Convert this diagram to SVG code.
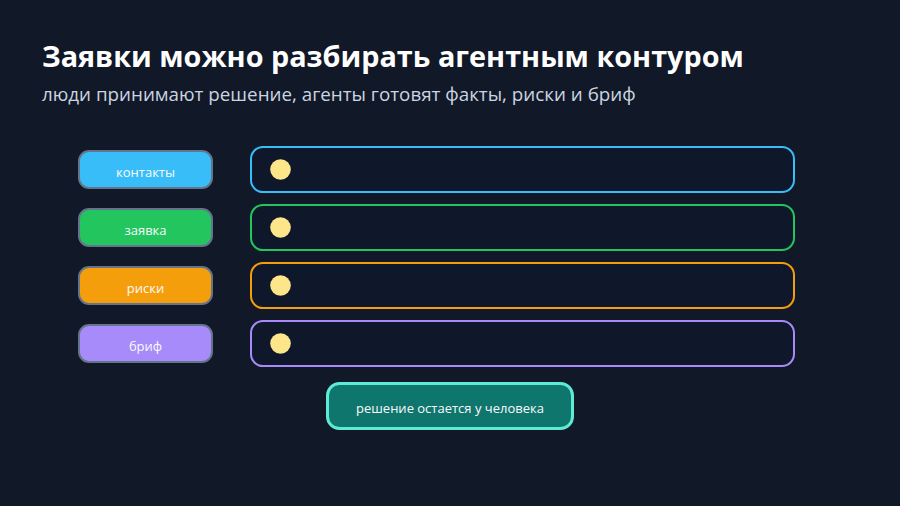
<svg xmlns="http://www.w3.org/2000/svg" width="900" height="506" viewBox="0 0 900 506">
<style>
.title{font-family:"Open Sans","Noto Sans","DejaVu Sans",sans-serif;font-weight:700;font-size:28.8px;fill:#ffffff}
.sub{font-family:"Open Sans","Noto Sans","DejaVu Sans",sans-serif;font-size:18.8px;fill:#cbd5e1}
.pill{stroke:#64748b;stroke-width:2}
.lbl{font-family:"Open Sans","Noto Sans","DejaVu Sans",sans-serif;font-size:13px;fill:#f8fafc;text-anchor:middle}
.box{fill:#0f172a;stroke-width:2}
.dot{fill:#fde68a}
</style>
<rect width="900" height="506" fill="#111827"/>
<text class="title" x="42" y="67">Заявки можно разбирать агентным контуром</text>
<text class="sub" x="42" y="101">люди принимают решение, агенты готовят факты, риски и бриф</text>
<g id="connectors"></g>
<g id="n-contacts"><rect class="pill" x="79" y="151" width="133" height="37" rx="10" fill="#38bdf8"/><text class="lbl" x="145.5" y="176.5">контакты</text></g>
<g id="n-request"><rect class="pill" x="79" y="209" width="133" height="37" rx="10" fill="#22c55e"/><text class="lbl" x="145.5" y="234.5">заявка</text></g>
<g id="n-risks"><rect class="pill" x="79" y="267" width="133" height="37" rx="10" fill="#f59e0b"/><text class="lbl" x="145.5" y="292.5">риски</text></g>
<g id="n-brief"><rect class="pill" x="79" y="325" width="133" height="37" rx="10" fill="#a78bfa"/><text class="lbl" x="145.5" y="350.5">бриф</text></g>
<g id="row1"><rect class="box" x="251" y="147" width="543" height="45" rx="12" stroke="#38bdf8"/><circle class="dot" cx="280.5" cy="169.5" r="10.3"/></g>
<g id="row2"><rect class="box" x="251" y="205" width="543" height="45" rx="12" stroke="#22c55e"/><circle class="dot" cx="280.5" cy="227.5" r="10.3"/></g>
<g id="row3"><rect class="box" x="251" y="263" width="543" height="45" rx="12" stroke="#f59e0b"/><circle class="dot" cx="280.5" cy="285.5" r="10.3"/></g>
<g id="row4"><rect class="box" x="251" y="321" width="543" height="45" rx="12" stroke="#a78bfa"/><circle class="dot" cx="280.5" cy="343.5" r="10.3"/></g>
<g id="n-decision"><rect x="327.5" y="383.5" width="245" height="45" rx="12" fill="#0f766e" stroke="#5eead4" stroke-width="3"/><text class="lbl" x="450" y="412.5">решение остается у человека</text></g>
</svg>
